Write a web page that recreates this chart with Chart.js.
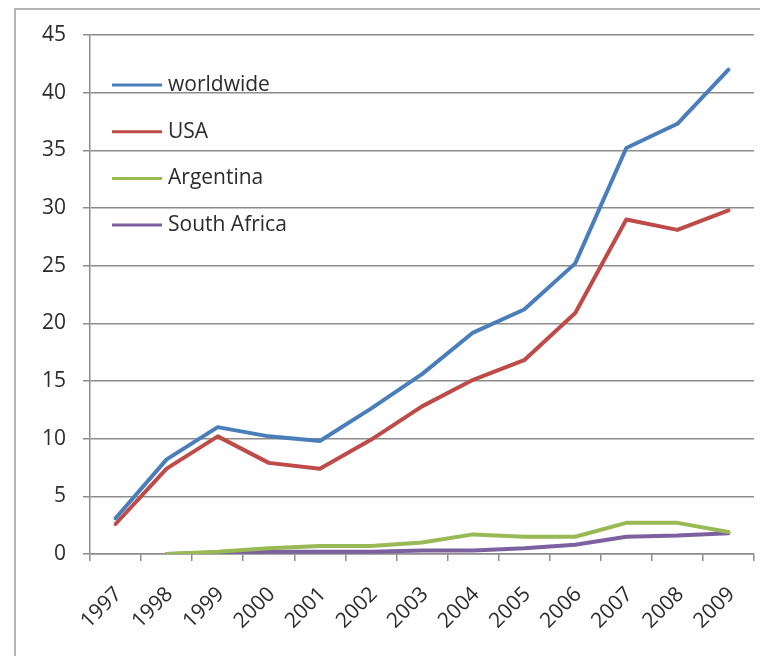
<!DOCTYPE html>
<html>
<head>
<meta charset="utf-8">
<script src="https://cdn.jsdelivr.net/npm/chart.js@4"></script>
<style>
  html, body { margin: 0; padding: 0; background: #fff; overflow: hidden; }
  #frame {
    position: absolute; left: 14px; top: 8px; width: 800px; height: 800px;
    border: 2px solid #b4b4b4; box-sizing: border-box;
  }
  #chart { position: absolute; left: 0; top: 0; }
</style>
</head>
<body>
<div id="frame"></div>
<canvas id="chart" width="760" height="656"></canvas>
<script>
// Years on the x axis
const years = ['1997', '1998', '1999', '2000', '2001', '2002', '2003',
  '2004', '2005', '2006', '2007', '2008', '2009'];

// Series values
const worldwide = [3.1, 8.2, 11.0, 10.2, 9.8, 12.6, 15.6, 19.2, 21.2, 25.2, 35.2, 37.3, 42.0];
const usa = [2.6, 7.4, 10.2, 7.9, 7.4, 9.9, 12.8, 15.1, 16.8, 20.9, 29.0, 28.1, 29.8];
const argentina = [null, 0.0, 0.2, 0.5, 0.7, 0.7, 1.0, 1.7, 1.5, 1.5, 2.7, 2.7, 1.9];
const southAfrica = [null, 0.0, 0.1, 0.2, 0.2, 0.2, 0.3, 0.3, 0.5, 0.8, 1.5, 1.6, 1.8];

// Y axis range
const Y_MIN = 0;
const Y_MAX = 45;
const Y_STEP = 5;

const FONT = "'Open Sans', 'Liberation Sans', sans-serif";
const FONT_SIZE = 21;
const AXIS_GRAY = '#8c8c8c';
const TEXT_COLOR = '#2b2b2b';

const makeSeries = (label, data, color) => ({
  label,
  data,
  borderColor: color,
  backgroundColor: color,
  borderWidth: 4,
  pointRadius: 0,
  pointHoverRadius: 0,
  tension: 0,
  borderJoinStyle: 'round',
  borderCapStyle: 'round',
  spanGaps: false,
});

// Excel-style legend drawn inside the plot, upper left
const insideLegend = {
  id: 'insideLegend',
  afterDraw(chart) {
    const { ctx, chartArea } = chart;
    const x0 = chartArea.left + 22;
    const lineLen = 50;
    ctx.save();
    ctx.font = `${FONT_SIZE}px ${FONT}`;
    ctx.textBaseline = 'middle';
    ctx.fillStyle = TEXT_COLOR;
    chart.data.datasets.forEach((ds, i) => {
      const y = chartArea.top + 50 + i * 46.7;
      ctx.strokeStyle = ds.borderColor;
      ctx.lineWidth = 3;
      ctx.beginPath();
      ctx.moveTo(x0, y);
      ctx.lineTo(x0 + lineLen, y);
      ctx.stroke();
      ctx.fillText(ds.label, x0 + lineLen + 6, y);
    });
    ctx.restore();
  },
};

new Chart(document.getElementById('chart'), {
  type: 'line',
  data: {
    labels: years,
    datasets: [
      makeSeries('worldwide', worldwide, '#4a7ebb'),
      makeSeries('USA', usa, '#be4b48'),
      makeSeries('Argentina', argentina, '#98b954'),
      makeSeries('South Africa', southAfrica, '#7d60a0'),
    ],
  },
  plugins: [insideLegend],
  options: {
    responsive: false,
    animation: false,
    layout: {
      padding: { top: 35, left: 25, right: 6, bottom: 12 },
    },
    plugins: {
      tooltip: { enabled: false },
      legend: { display: false },
    },
    scales: {
      x: {
        offset: true,
        grid: {
          offset: true,
          drawOnChartArea: false,
          drawTicks: true,
          tickLength: 7,
          color: AXIS_GRAY,
          lineWidth: 1.5,
        },
        border: { display: true, color: AXIS_GRAY, width: 1.5 },
        ticks: {
          color: TEXT_COLOR,
          font: { family: FONT, size: FONT_SIZE },
          maxRotation: 45,
          minRotation: 45,
          padding: 21,
          labelOffset: 3,
        },
        // the big tick padding makes Chart.js reserve too much room, trim it back
        afterFit: (scale) => {
          scale.paddingRight = 0;
          scale.height = 90;
        },
      },
      y: {
        min: Y_MIN,
        max: Y_MAX,
        grid: {
          color: AXIS_GRAY,
          lineWidth: 1.5,
          tickLength: 7,
        },
        border: { display: true, color: AXIS_GRAY, width: 1.5 },
        ticks: {
          stepSize: Y_STEP,
          color: TEXT_COLOR,
          font: { family: FONT, size: FONT_SIZE },
          padding: 17,
        },
      },
    },
  },
});
</script>
</body>
</html>
